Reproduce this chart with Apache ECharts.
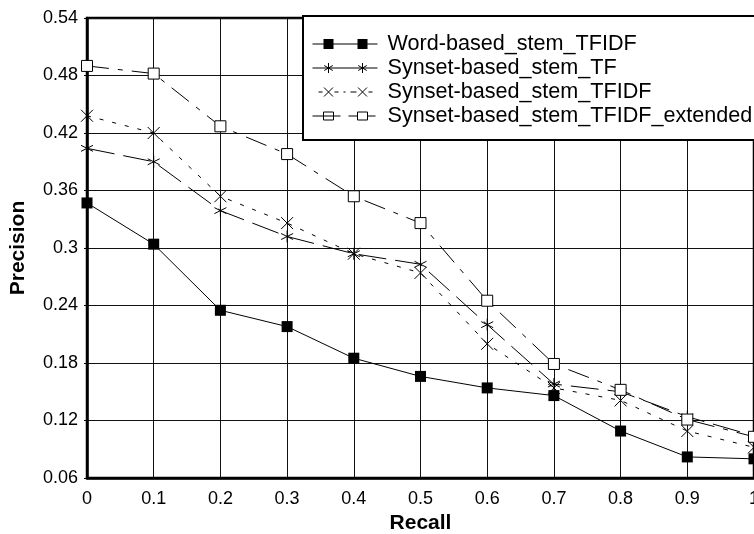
<!DOCTYPE html>
<html>
<head>
<meta charset="utf-8">
<script src="https://cdn.jsdelivr.net/npm/echarts@6/dist/echarts.min.js"></script>
<style>
  html, body { margin: 0; padding: 0; background: #fff; }
  #chart { width: 754px; height: 534px; }
</style>
</head>
<body>
<div id="chart"></div>
<script>
// recall levels on the x axis
var recall = [0, 0.1, 0.2, 0.3, 0.4, 0.5, 0.6, 0.7, 0.8, 0.9, 1];
var seriesNames = ['Word-based_stem_TFIDF', 'Synset-based_stem_TF', 'Synset-based_stem_TFIDF', 'Synset-based_stem_TFIDF_extended'];
// precision values
var wordTfidf = [0.347, 0.304, 0.235, 0.218, 0.185, 0.166, 0.154, 0.146, 0.109, 0.082, 0.080];
var synsetTf = [0.404, 0.390, 0.339, 0.312, 0.294, 0.283, 0.220, 0.158, 0.150, 0.124, 0.104];
var synsetTfidf = [0.438, 0.420, 0.354, 0.326, 0.294, 0.274, 0.200, 0.154, 0.141, 0.109, 0.092];
var synsetExt = [0.490, 0.482, 0.427, 0.398, 0.354, 0.326, 0.245, 0.179, 0.152, 0.121, 0.103];

function pairs(vals) {
    return recall.map(function (r, i) { return [r, vals[i]]; });
}

var FONT = 'Liberation Sans, Arial, sans-serif';
var starPath = 'path://M5 0L5 10M0.7 2.5L9.3 7.5M0.7 7.5L9.3 2.5';
var crossPath = 'path://M0 0L10 10M10 0L0 10';

// legend icons: a line with two markers, box 65 x 14
var anchor = 'M0 0M65 14';
var iconWord = 'path://' + anchor + 'M0 6.5H65V7.5H0Z M11 2H21V12H11Z M45 2H55V12H45Z';
var iconTf = 'path://' + anchor + 'M0 7H65 M16 2V12 M11.7 4.5L20.3 9.5 M11.7 9.5L20.3 4.5 M50 2V12 M45.7 4.5L54.3 9.5 M45.7 9.5L54.3 4.5';
var iconTfidf = 'path://' + anchor + 'M6 7H10 M22 7H26 M31 7H33 M38 7H44 M56 7H60 M11.5 2.5L20.5 11.5 M20.5 2.5L11.5 11.5 M45.5 2.5L54.5 11.5 M54.5 2.5L45.5 11.5';
var iconExt = 'path://' + anchor + 'M0 7H28 M11 3H21V11H11Z M36 7H45 M55 7H63 M45 3H55V11H45Z';

var option = {
    backgroundColor: '#fff',
    animation: false,
    grid: {
        left: 87, right: 0, top: 18, bottom: 56,
        show: true, borderColor: '#000', borderWidth: 2.5,
        containLabel: false, outerBoundsMode: 'none'
    },
    legend: {
        orient: 'vertical',
        left: 303, top: 16,
        padding: [17, 80, 13, 9],
        backgroundColor: '#fff',
        borderColor: '#000', borderWidth: 2, borderRadius: 0,
        itemWidth: 65, itemHeight: 14, itemGap: 2,
        textStyle: { fontFamily: FONT, fontSize: 21.6, color: '#000', lineHeight: 20, padding: [0, 0, 0, 5] },
        data: [
            { name: seriesNames[0], icon: iconWord, itemStyle: { color: '#000', borderWidth: 0 } },
            { name: seriesNames[1], icon: iconTf, itemStyle: { color: '#fff', borderColor: '#000', borderWidth: 1 } },
            { name: seriesNames[2], icon: iconTfidf, itemStyle: { color: '#fff', borderColor: '#000', borderWidth: 1 } },
            { name: seriesNames[3], icon: iconExt, itemStyle: { color: '#fff', borderColor: '#000', borderWidth: 1 } }
        ]
    },
    xAxis: {
        type: 'value', min: 0, max: 1, interval: 0.1,
        name: 'Recall', nameLocation: 'middle', nameGap: 34,
        nameTextStyle: { fontFamily: FONT, fontSize: 21, fontWeight: 'bold', color: '#000' },
        axisLine: { show: true, lineStyle: { color: '#000', width: 2.5 } },
        axisTick: { show: false },
        axisLabel: {
            fontFamily: FONT, fontSize: 18, color: '#000', margin: 12,
            formatter: function (v) { return String(+v.toFixed(1)); }
        },
        splitLine: { show: true, lineStyle: { color: '#111', width: 1 } }
    },
    yAxis: {
        type: 'value', min: 0.06, max: 0.54, interval: 0.06,
        name: 'Precision', nameLocation: 'middle', nameGap: 58,
        nameTextStyle: { fontFamily: FONT, fontSize: 21, fontWeight: 'bold', color: '#000' },
        axisLine: { show: true, lineStyle: { color: '#000', width: 2.5 } },
        axisTick: { show: true, length: 3, lineStyle: { color: '#000' } },
        axisLabel: {
            fontFamily: FONT, fontSize: 18, color: '#000', margin: 9,
            formatter: function (v) { return String(+v.toFixed(2)); }
        },
        splitLine: { show: true, lineStyle: { color: '#111', width: 1 } }
    },
    series: [
        {
            name: seriesNames[0], type: 'line', data: pairs(wordTfidf),
            symbol: 'rect', symbolSize: 11,
            lineStyle: { color: '#000', width: 1 },
            itemStyle: { color: '#000' }
        },
        {
            name: seriesNames[1], type: 'line', data: pairs(synsetTf),
            symbol: starPath, symbolSize: 12,
            lineStyle: { color: '#000', width: 1, type: [28, 9] },
            itemStyle: { color: '#fff', borderColor: '#000', borderWidth: 1 }
        },
        {
            name: seriesNames[2], type: 'line', data: pairs(synsetTfidf),
            symbol: crossPath, symbolSize: 12,
            lineStyle: { color: '#000', width: 1, type: [4, 9] },
            itemStyle: { color: '#fff', borderColor: '#000', borderWidth: 1 }
        },
        {
            name: seriesNames[3], type: 'line', data: pairs(synsetExt),
            symbol: 'rect', symbolSize: 11,
            lineStyle: { color: '#000', width: 1, type: [22, 9, 5, 9] },
            itemStyle: { color: '#fff', borderColor: '#000', borderWidth: 1 }
        }
    ]
};

var chart = echarts.init(document.getElementById('chart'), null, { renderer: 'canvas' });
chart.setOption(option);
</script>
</body>
</html>
